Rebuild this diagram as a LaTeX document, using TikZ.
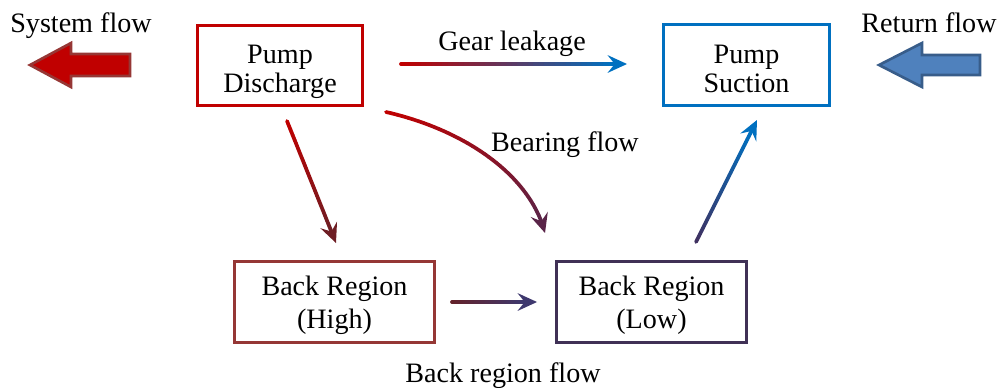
\documentclass[tikz,border=0pt]{standalone}
\usepackage{fontspec}
\setmainfont{Liberation Serif}
\usetikzlibrary{arrows.meta,calc}
\definecolor{cred}{RGB}{192,0,0}
\definecolor{cblue}{RGB}{0,112,192}
\definecolor{chigh}{RGB}{149,55,53}
\definecolor{clow}{RGB}{64,49,86}
\definecolor{sysborder}{RGB}{150,55,53}
\definecolor{retfill}{RGB}{79,129,189}
\definecolor{retborder}{RGB}{56,93,138}
\definecolor{cdkred}{RGB}{110,30,36}
\definecolor{cbear}{RGB}{90,36,72}
\definecolor{cbfrom}{RGB}{100,34,42}
\definecolor{cbto}{RGB}{62,56,110}
\definecolor{clowline}{RGB}{64,49,96}
\newcommand\gradconn[5]{%
  \foreach \k [evaluate=\k as \t using #5*\k/40] in {0,...,40}{\path #2 coordinate[pos=\t] (#1-\k);}
  \path #2 coordinate[pos=1] (#1-end);
  \foreach \k [evaluate=\k as \kn using int(\k+1), evaluate=\k as \pc using int(100*\k/39)] in {0,...,39}
    {\draw[conn, line cap=round, #4!\pc!#3] (#1-\k) -- (#1-\kn);}
  \draw[conn, #4, -{Stealth[length=11pt,width=10pt,inset=4pt]}] (#1-40) -- (#1-end);
}
\begin{document}
\begin{tikzpicture}[x=0.02cm,y=-0.02cm,
  font=\fontsize{16pt}{16.5pt}\selectfont,
  box/.style={draw, line width=1.7pt},
  conn/.style={line width=2.1pt},
  lbl/.style={anchor=base, inner sep=0pt}]
\useasboundingbox (0,0) rectangle (1000,387);

% boxes
\node[box, draw=cred, minimum width=3.3cm, minimum height=1.6cm] (dis) at (280,65.5) {};
\node[box, draw=cblue, minimum width=3.32cm, minimum height=1.62cm] (suc) at (746.5,65) {};
\node[box, draw=chigh, minimum width=4.0cm, minimum height=1.62cm] (high) at (334.5,302) {};
\node[box, draw=clow, minimum width=3.8cm, minimum height=1.62cm] (low) at (651.5,302) {};

% box texts
\node[lbl] (dis1) at (280,63.5) {Pump};
\node[lbl] (dis2) at (280,92.8) {Discharge};
\node[lbl] (suc1) at (746.5,63.5) {Pump};
\node[lbl] (suc2) at (746.5,92.3) {Suction};
\node[lbl] (high1) at (334.5,295.5) {Back Region};
\node[lbl] (high2) at (334.5,328.5) {(High)};
\node[lbl] (low1) at (651.5,295.5) {Back Region};
\node[lbl] (low2) at (651.5,328.5) {(Low)};

% labels
\node[lbl] (lsys) at (81,32) {System flow};
\node[lbl] (lret) at (929,32) {Return flow};
\node[lbl] (lgear) at (512,50) {Gear leakage};
\node[lbl] (lbear) at (565,151) {Bearing flow};
\node[lbl] (lback) at (503,382) {Back region flow};

% block arrows
\draw[line width=1.5pt, draw=sysborder, fill=cred, line join=miter]
  (30,65) -- (71,43) -- (71,54) -- (130,54) -- (130,76) -- (71,76) -- (71,87) -- cycle;
\draw[line width=1.5pt, draw=retborder, fill=retfill, line join=miter]
  (879,65) -- (922,43) -- (922,55) -- (980,55) -- (980,75) -- (922,75) -- (922,87) -- cycle;

% connectors
\gradconn{gear}{($(dis.east)+(37,-1.5)$) -- ($(suc.west)+(-35,-1)$)}{cred}{cblue}{0.947}
\gradconn{dh}{($(dis.south)+(7,14)$) -- ($(high.north)+(1.5,-17)$)}{cred}{cdkred}{0.91}
\gradconn{bear}{($(dis.south east)+(22,5)$) .. controls +(79,18) and +(-15,-58) .. ($(low.north west)+(-10,-27)$)}{cred}{cbear}{0.945}
\gradconn{hl}{($(high.east)+(16,0)$) -- ($(low.west)+(-18,0)$)}{cbfrom}{cbto}{0.86}
\gradconn{ls}{($(low.north)+(44.5,-18)$) -- ($(suc.south)+(10.5,13)$)}{clowline}{cblue}{0.91}
\end{tikzpicture}
\end{document}
